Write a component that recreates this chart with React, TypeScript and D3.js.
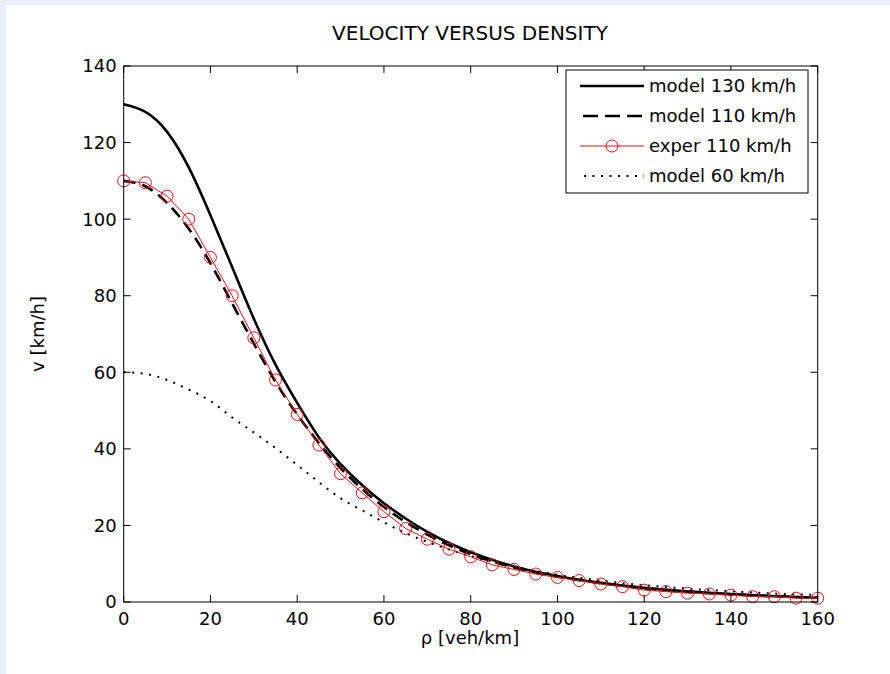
import React from "react";
import * as d3 from "d3";

const rho = [0, 5, 10, 15, 20, 25, 30, 35, 40, 45, 50, 55, 60, 65, 70, 75, 80, 85, 90, 95, 100, 105, 110, 115, 120, 125, 130, 135, 140, 145, 150, 155, 160];
const model130 = [130, 128, 122.8, 113.5, 101, 87.5, 74, 62, 52, 43, 36, 30.5, 25.8, 21.8, 18.3, 15.4, 13, 11, 9.3, 7.9, 6.8, 5.8, 5, 4.3, 3.7, 3.2, 2.8, 2.4, 2.1, 1.8, 1.5, 1.3, 1.1];
const model110 = [110, 108.6, 104.2, 97.5, 88.5, 78, 67.5, 57.5, 49, 41.5, 35, 29.5, 24.8, 20.9, 17.6, 14.8, 12.5, 10.6, 9, 7.7, 6.6, 5.7, 4.9, 4.2, 3.6, 3.1, 2.7, 2.3, 2, 1.7, 1.5, 1.3, 1.1];
const exper110 = [110, 109.5, 106, 100, 90, 80, 69, 58, 49, 41, 33.5, 28.5, 23.6, 19.2, 16.4, 13.8, 11.8, 9.7, 8.5, 7.3, 6.4, 5.6, 4.7, 4.0, 3.1, 2.7, 2.3, 2.1, 1.8, 1.4, 1.4, 1.0, 1.0];
const model60 = [60, 59.6, 58, 55.5, 52.5, 48.2, 44.3, 40.2, 35.8, 31.3, 27.1, 23.9, 20.8, 18, 15.7, 13.7, 12, 10.5, 9.2, 8.1, 7.1, 6.3, 5.6, 4.9, 4.4, 3.9, 3.5, 3.1, 2.8, 2.5, 2.2, 2, 1.8];

const xTicks = [0, 20, 40, 60, 80, 100, 120, 140, 160];
const yTicks = [0, 20, 40, 60, 80, 100, 120, 140];
const legendLabels = ["model 130 km/h", "model 110 km/h", "exper 110 km/h", "model 60 km/h"];

const W = 890;
const H = 674;
const FONT = "'DejaVu Sans', sans-serif";
const RED = "#e01515";

export default function App() {
  const left = 123.7, right = 817.7, top = 66, bottom = 602;
  const x = d3.scaleLinear().domain([0, 160]).range([left, right]);
  const y = d3.scaleLinear().domain([0, 140]).range([bottom, top]);

  const smooth = d3
    .line<number>()
    .x((_, i) => x(rho[i]))
    .y((d) => y(d))
    .curve(d3.curveNatural);
  const straight = d3
    .line<number>()
    .x((_, i) => x(rho[i]))
    .y((d) => y(d));

  const tickLen = 7;
  const lg = { x0: 566, y0: 70, x1: 808, y1: 193 };
  const rows = [86, 116, 146, 176];
  const lineX0 = 580, lineX1 = 644, textX = 649;

  return (
    <div style={{ position: "absolute", left: 0, top: 0 }}>
      <svg width={W} height={H} style={{ display: "block" }}>
        <rect x={0} y={0} width={W} height={H} fill="#e9eef8" />
        <rect x={6} y={5} width={W - 6} height={H - 5} fill="#ffffff" />

        <text x={470} y={40} textAnchor="middle" fontFamily={FONT} fontSize={20} fill="#000">
          VELOCITY VERSUS DENSITY
        </text>

        <defs>
          <clipPath id="clip">
            <rect x={left - 8} y={top} width={right - left + 16} height={bottom - top + 8} />
          </clipPath>
        </defs>

        {/* curves */}
        <g clipPath="url(#clip)">
          <path d={smooth(model60) ?? ""} fill="none" stroke="#000" strokeWidth={2} strokeDasharray="2,6.5" />
          <path d={smooth(model110) ?? ""} fill="none" stroke="#000" strokeWidth={2.6} strokeDasharray="12,7" />
          <path d={smooth(model130) ?? ""} fill="none" stroke="#000" strokeWidth={2.6} />
          <path d={straight(exper110) ?? ""} fill="none" stroke={RED} strokeWidth={1} />
          {exper110.map((v, i) => (
            <circle key={i} cx={x(rho[i])} cy={y(v)} r={6} fill="none" stroke={RED} strokeWidth={1} />
          ))}
        </g>

        {/* axes box */}
        <rect x={left} y={top} width={right - left} height={bottom - top} fill="none" stroke="#000" strokeWidth={1} />
        {xTicks.map((t) => (
          <g key={"x" + t}>
            <line x1={x(t)} x2={x(t)} y1={bottom} y2={bottom - tickLen} stroke="#000" />
            <line x1={x(t)} x2={x(t)} y1={top} y2={top + tickLen} stroke="#000" />
            <text x={x(t)} y={625} textAnchor="middle" fontFamily={FONT} fontSize={18} fill="#000">
              {t}
            </text>
          </g>
        ))}
        {yTicks.map((t) => (
          <g key={"y" + t}>
            <line x1={left} x2={left + tickLen} y1={y(t)} y2={y(t)} stroke="#000" />
            <line x1={right} x2={right - tickLen} y1={y(t)} y2={y(t)} stroke="#000" />
            <text x={left - 7} y={y(t)} dy="0.36em" textAnchor="end" fontFamily={FONT} fontSize={18} fill="#000">
              {t}
            </text>
          </g>
        ))}

        <text x={470} y={644} textAnchor="middle" fontFamily={FONT} fontSize={18} fill="#000">
          ρ [veh/km]
        </text>
        <text
          transform={`translate(44, ${(top + bottom) / 2}) rotate(-90)`}
          textAnchor="middle"
          fontFamily={FONT}
          fontSize={18}
          fill="#000"
        >
          v [km/h]
        </text>

        {/* legend */}
        <rect x={lg.x0} y={lg.y0} width={lg.x1 - lg.x0} height={lg.y1 - lg.y0} fill="#fff" stroke="#000" strokeWidth={1} />
        <line x1={lineX0} x2={lineX1} y1={rows[0]} y2={rows[0]} stroke="#000" strokeWidth={2.6} />
        <line x1={lineX0 + 3} x2={lineX1} y1={rows[1]} y2={rows[1]} stroke="#000" strokeWidth={2.6} strokeDasharray="15,7" />
        <line x1={lineX0} x2={lineX1} y1={rows[2]} y2={rows[2]} stroke={RED} strokeWidth={1} />
        <circle cx={(lineX0 + lineX1) / 2} cy={rows[2]} r={6} fill="none" stroke={RED} strokeWidth={1} />
        <line x1={lineX0 + 4} x2={lineX1} y1={rows[3]} y2={rows[3]} stroke="#000" strokeWidth={2} strokeDasharray="2,6.5" />
        {legendLabels.map((l, i) => (
          <text key={l} x={textX} y={rows[i]} dy="0.36em" fontFamily={FONT} fontSize={18} fill="#000">
            {l}
          </text>
        ))}
      </svg>
    </div>
  );
}
